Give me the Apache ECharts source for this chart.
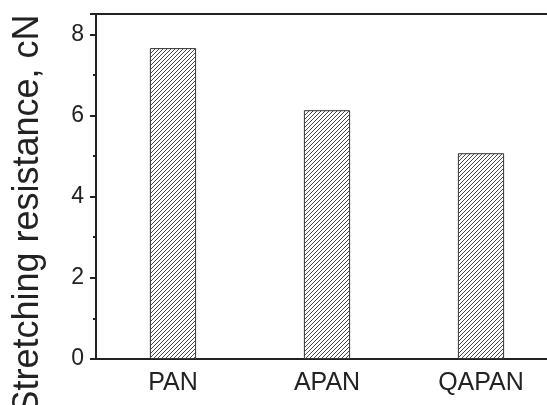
<!DOCTYPE html>
<html>
<head>
<meta charset="utf-8">
<script src="https://cdn.jsdelivr.net/npm/echarts@6/dist/echarts.min.js"></script>
<style>
  html, body { margin: 0; padding: 0; background: #fff; }
  #chart { width: 547px; height: 405px; }
</style>
</head>
<body>
<div id="chart"></div>
<script>
// Fibre samples and their stretching resistance (cN)
const categories = ['PAN', 'APAN', 'QAPAN'];
const resistance = [7.66, 6.13, 5.07];
const yTicks = [0, 2, 4, 6, 8];

// Diagonal hatch tile used as the bar fill
function hatchTile() {
  const c = document.createElement('canvas');
  c.width = 4; c.height = 4;
  const g = c.getContext('2d');
  g.fillStyle = '#fff';
  g.fillRect(0, 0, 4, 4);
  g.strokeStyle = '#333';
  g.lineWidth = 0.9;
  g.beginPath();
  g.moveTo(-1, 5); g.lineTo(5, -1);
  g.moveTo(-1, 1); g.lineTo(1, -1);
  g.moveTo(3, 5); g.lineTo(5, 3);
  g.stroke();
  return c;
}

const axisColor = '#222';
const font = 'Liberation Sans, Arial, sans-serif';

const chart = echarts.init(document.getElementById('chart'));
chart.setOption({
  animation: false,
  grid: {
    left: 96, top: 14, width: 462, height: 345,
    containLabel: false, outerBoundsMode: 'none',
    show: true, borderColor: axisColor, borderWidth: 2, backgroundColor: 'transparent'
  },
  xAxis: [{
    type: 'category',
    data: categories,
    axisLine: { lineStyle: { color: axisColor, width: 2 } },
    axisTick: { alignWithLabel: true, length: 6, lineStyle: { color: axisColor, width: 2 } },
    axisLabel: { color: '#222', fontSize: 25, fontFamily: font, margin: 12 }
  }, {
    type: 'category',
    data: categories,
    position: 'bottom',
    axisLine: { show: false },
    axisTick: { length: 3, lineStyle: { color: axisColor, width: 2 } },
    axisLabel: { show: false }
  }],
  yAxis: {
    type: 'value',
    min: 0, max: 8.5, interval: 2,
    name: 'Stretching resistance, cN',
    nameLocation: 'middle',
    nameGap: 50,
    nameTextStyle: { color: '#222', fontSize: 36, fontFamily: font, padding: [0, 56, 0, 0] },
    axisLine: { show: true, lineStyle: { color: axisColor, width: 2 } },
    axisTick: { show: true, length: 6, lineStyle: { color: axisColor, width: 2 } },
    minorTick: { show: true, splitNumber: 2, length: 3, lineStyle: { color: axisColor, width: 2 } },
    splitLine: { show: false },
    axisLabel: {
      color: '#222', fontSize: 23, fontFamily: font, margin: 12,
      formatter: v => (yTicks.indexOf(v) >= 0 ? String(v) : '')
    }
  },
  series: [{
    type: 'bar',
    data: resistance,
    barWidth: '30%',
    itemStyle: {
      color: { image: hatchTile(), repeat: 'repeat' },
      borderColor: '#333',
      borderWidth: 1
    }
  }]
});
</script>
</body>
</html>
